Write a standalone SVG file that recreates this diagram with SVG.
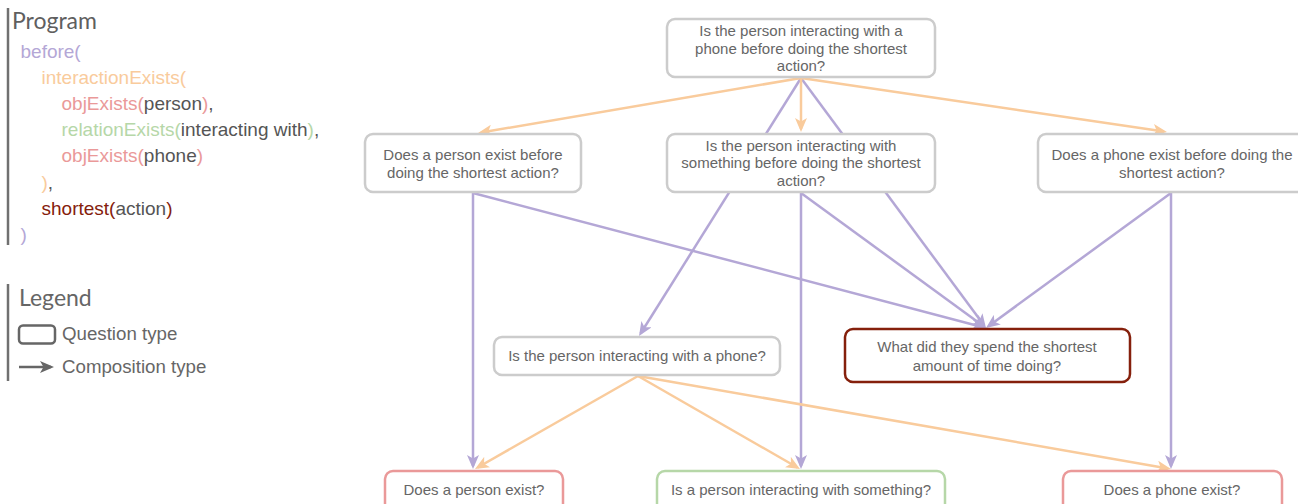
<svg xmlns="http://www.w3.org/2000/svg" width="1298" height="504" viewBox="0 0 1298 504">
<style>
  .title { font-family: Lato, "Open Sans", sans-serif; font-size: 23px; fill: #5f5f5f; }
  .code { font-family: "Liberation Sans", Arial, sans-serif; font-size: 19px; fill: #555555; }
  .leg { font-family: "Liberation Sans", Arial, sans-serif; font-size: 18.7px; fill: #666666; }
  .bar { stroke: #707070; stroke-width: 2.5; }
  .kBefore { fill: #b4a7d6; }
  .kInter { fill: #f9cb9c; }
  .kObj { fill: #ea9999; }
  .kRel { fill: #b6d7a8; }
  .kShort { fill: #85200c; }
  .node rect { fill: #ffffff; stroke: #cccccc; stroke-width: 2.5; }
  .node text { font-family: "Liberation Sans", Arial, sans-serif; font-size: 15px; fill: #666666; text-anchor: middle; }
  .node.red rect { stroke: #85200c; }
  .node.pink rect { stroke: #ea9999; }
  .node.green rect { stroke: #b6d7a8; }
  .e { fill: none; stroke-width: 2.5; }
  .o { stroke: #f9cb9c; marker-end: url(#ao); }
  .p { stroke: #b4a7d6; marker-end: url(#ap); }
</style>
<defs>
  <marker id="ao" viewBox="0 0 14 12" refX="11" refY="6" markerWidth="14" markerHeight="12" markerUnits="userSpaceOnUse" orient="auto">
    <path d="M0,0 L14,6 L0,12 L3.5,6 z" fill="#f9cb9c"/>
  </marker>
  <marker id="ap" viewBox="0 0 14 12" refX="11" refY="6" markerWidth="14" markerHeight="12" markerUnits="userSpaceOnUse" orient="auto">
    <path d="M0,0 L14,6 L0,12 L3.5,6 z" fill="#b4a7d6"/>
  </marker>
  <marker id="ag" viewBox="0 0 14 12" refX="11" refY="6" markerWidth="14" markerHeight="12" markerUnits="userSpaceOnUse" orient="auto">
    <path d="M0,0 L14,6 L0,12 L3.5,6 z" fill="#666666"/>
  </marker>
</defs>
<rect width="1298" height="504" fill="#ffffff"/>

<g id="program">
  <line class="bar" x1="8" y1="8" x2="8" y2="245"/>
  <text class="title" x="12" y="28.5">Program</text>
  <text class="code" x="20.5" y="57.5"><tspan class="kBefore">before(</tspan></text>
  <text class="code" x="41.5" y="83.5"><tspan class="kInter">interactionExists(</tspan></text>
  <text class="code" x="61.5" y="110"><tspan class="kObj">objExists(</tspan>person<tspan class="kObj">)</tspan>,</text>
  <text class="code" x="61.5" y="136"><tspan class="kRel">relationExists(</tspan>interacting with<tspan class="kRel">)</tspan>,</text>
  <text class="code" x="61.5" y="162"><tspan class="kObj">objExists(</tspan>phone<tspan class="kObj">)</tspan></text>
  <text class="code" x="41.5" y="188.5"><tspan class="kInter">)</tspan>,</text>
  <text class="code" x="41.5" y="214.5"><tspan class="kShort">shortest(</tspan>action<tspan class="kShort">)</tspan></text>
  <text class="code" x="20.5" y="240.5"><tspan class="kBefore">)</tspan></text>
</g>

<g id="legend">
  <line class="bar" x1="8" y1="284" x2="8" y2="381"/>
  <text class="title" x="19" y="306" style="fill:#666666">Legend</text>
  <rect x="19" y="325.5" width="36" height="18" rx="4" fill="none" stroke="#666666" stroke-width="2.5"/>
  <text class="leg" x="62" y="340">Question type</text>
  <line x1="19" y1="367" x2="51" y2="367" stroke="#666666" stroke-width="2.5" marker-end="url(#ag)"/>
  <text class="leg" x="62" y="372.5">Composition type</text>
</g>

<g id="connectors">
  <path class="e p" d="M801,78 L640.6,333.5"/>
  <path class="e p" d="M801,78 L984.2,325.6"/>
  <path class="e p" d="M473,193 L473,466"/>
  <path class="e p" d="M473,193 L983.1,327.2"/>
  <path class="e p" d="M801,193 L801,466"/>
  <path class="e p" d="M801,193 L983.6,326.2"/>
  <path class="e p" d="M1171,193 L1171,466"/>
  <path class="e p" d="M1171,193 L988.4,326.2"/>
  <path class="e o" d="M801,78 L481,132.5"/>
  <path class="e o" d="M801,78 L801,129"/>
  <path class="e o" d="M801,78 L1164,131.6"/>
  <path class="e o" d="M638,376 L477.6,467.5"/>
  <path class="e o" d="M638,376 L797.4,467.5"/>
  <path class="e o" d="M638,376 L1168,468.5"/>
</g>

<g id="n-top" class="node">
  <rect x="667" y="19" width="268" height="58" rx="8"/>
  <text x="801" y="36">Is the person interacting with a</text>
  <text x="801" y="53.5">phone before doing the shortest</text>
  <text x="801" y="71">action?</text>
</g>
<g id="n-person-before" class="node">
  <rect x="365" y="134" width="216" height="58" rx="8"/>
  <text x="473" y="160">Does a person exist before</text>
  <text x="473" y="177.5">doing the shortest action?</text>
</g>
<g id="n-something-before" class="node">
  <rect x="667" y="134" width="268" height="58" rx="8"/>
  <text x="801" y="150.5">Is the person interacting with</text>
  <text x="801" y="168">something before doing the shortest</text>
  <text x="801" y="185.5">action?</text>
</g>
<g id="n-phone-before" class="node">
  <rect x="1038" y="134" width="268" height="58" rx="8"/>
  <text x="1172" y="160">Does a phone exist before doing the</text>
  <text x="1172" y="177.5">shortest action?</text>
</g>
<g id="n-interacting-phone" class="node">
  <rect x="494" y="337" width="286" height="38" rx="8"/>
  <text x="637" y="361">Is the person interacting with a phone?</text>
</g>
<g id="n-shortest" class="node red">
  <rect x="845" y="329" width="285" height="53" rx="8"/>
  <text x="987" y="352">What did they spend the shortest</text>
  <text x="987" y="371">amount of time doing?</text>
</g>
<g id="n-person" class="node pink">
  <rect x="385" y="471" width="178" height="42" rx="8"/>
  <text x="474" y="495">Does a person exist?</text>
</g>
<g id="n-something" class="node green">
  <rect x="657" y="471" width="288" height="42" rx="8"/>
  <text x="801" y="495">Is a person interacting with something?</text>
</g>
<g id="n-phone" class="node pink">
  <rect x="1063" y="471" width="219" height="42" rx="8"/>
  <text x="1172" y="495">Does a phone exist?</text>
</g>
</svg>
